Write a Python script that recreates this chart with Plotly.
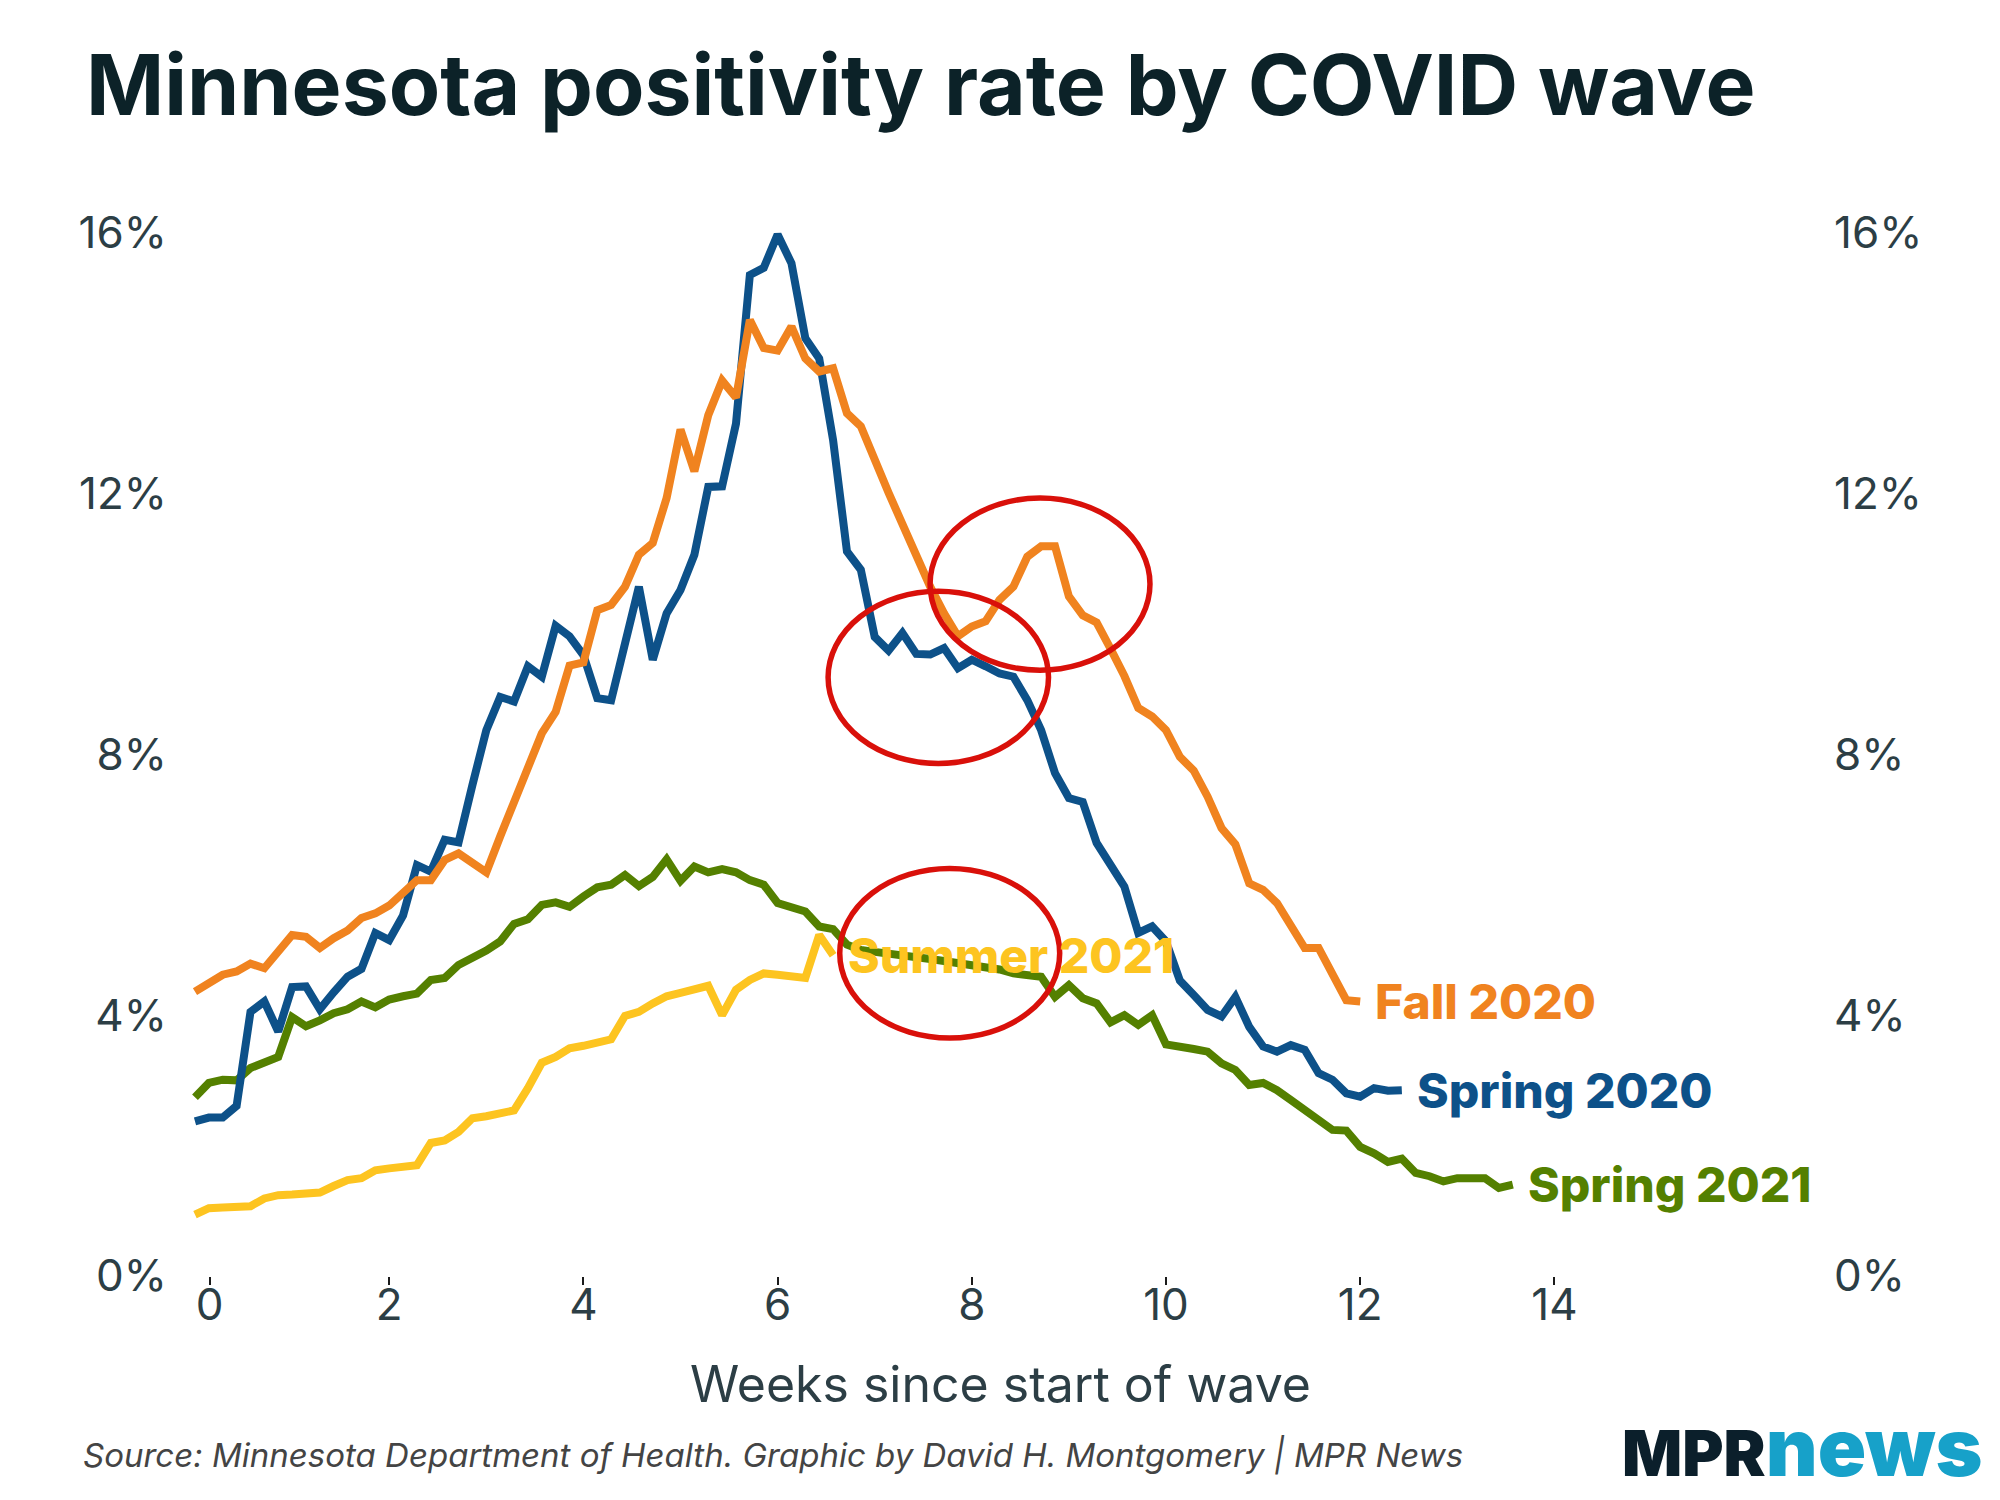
import plotly.graph_objects as go

# ---------------- data (daily values, % positivity) ----------------
spring_2020 = [2.37, 2.43, 2.43, 2.61, 4.05, 4.21, 3.75, 4.43, 4.44, 4.09, 4.35, 4.59, 4.71, 5.26, 5.15,
               5.53, 6.30, 6.20, 6.69, 6.65, 7.53, 8.37, 8.88, 8.81, 9.35, 9.19, 9.97, 9.81, 9.52, 8.86,
               8.83, 9.70, 10.57, 9.45, 10.16, 10.52, 11.06, 12.10, 12.11, 13.07, 15.35, 15.46, 15.97,
               15.53, 14.38, 14.07, 12.82, 11.11, 10.83, 9.80, 9.59, 9.86, 9.54, 9.53, 9.63, 9.32, 9.45,
               9.35, 9.24, 9.19, 8.83, 8.37, 7.71, 7.33, 7.27, 6.64, 6.28, 5.97, 5.26, 5.36, 5.13, 4.53,
               4.31, 4.08, 3.98, 4.28, 3.82, 3.52, 3.44, 3.54, 3.47, 3.11, 3.01, 2.80, 2.75, 2.88, 2.84, 2.85]

fall_2020 = [4.36, 4.49, 4.62, 4.67, 4.79, 4.72, 4.96, 5.23, 5.20, 5.03, 5.18, 5.30, 5.49, 5.56, 5.68,
             5.89, 6.07, 6.07, 6.38, 6.48, 6.33, 6.19, 6.74, 7.25, 7.73, 8.32, 8.65, 9.36, 9.41, 10.21,
             10.29, 10.57, 11.06, 11.24, 11.93, 12.98, 12.34, 13.20, 13.73, 13.47, 14.66, 14.23, 14.19,
             14.56, 14.07, 13.87, 13.92, 13.23, 13.03, 12.50, 12.01, 11.53, 11.04, 10.57, 10.16, 9.81,
             9.96, 10.04, 10.37, 10.57, 11.03, 11.19, 11.19, 10.42, 10.13, 10.02, 9.62, 9.20, 8.71, 8.58,
             8.37, 7.96, 7.75, 7.35, 6.87, 6.62, 6.02, 5.92, 5.72, 5.40, 5.03, 5.03, 4.64, 4.23, 4.21]

spring_2021 = [2.74, 2.96, 3.01, 3.00, 3.19, 3.29, 3.36, 3.97, 3.83, 3.92, 4.03, 4.09, 4.21, 4.12, 4.24,
               4.29, 4.33, 4.54, 4.57, 4.77, 4.87, 4.99, 5.13, 5.40, 5.47, 5.69, 5.73, 5.66, 5.82, 5.96,
               6.00, 6.15, 5.98, 6.12, 6.39, 6.06, 6.28, 6.19, 6.24, 6.19, 6.07, 6.00, 5.72, 5.65, 5.59,
               5.36, 5.32, 5.08, 5.00, 4.97, 4.95, 4.92, 4.90, 4.86, 4.83, 4.80, 4.77, 4.73, 4.70, 4.64,
               4.61, 4.59, 4.28, 4.46, 4.26, 4.18, 3.89, 4.00, 3.85, 4.00, 3.55, 3.53, 3.48, 3.44, 3.26,
               3.16, 2.93, 2.96, 2.85, 2.70, 2.55, 2.42, 2.24, 2.23, 1.98, 1.88, 1.75, 1.80, 1.58, 1.53,
               1.45, 1.50, 1.50, 1.50, 1.35, 1.40]

summer_2021 = [0.94, 1.04, 1.05, 1.06, 1.07, 1.19, 1.24, 1.25, 1.26, 1.28, 1.38, 1.47, 1.50, 1.62, 1.65,
               1.68, 1.70, 2.04, 2.08, 2.21, 2.42, 2.45, 2.50, 2.54, 2.88, 3.27, 3.36, 3.49, 3.53, 3.58,
               3.63, 3.99, 4.05, 4.18, 4.29, 4.34, 4.39, 4.45, 4.00, 4.39, 4.54, 4.64, 4.62, 4.60, 4.57,
               5.23, 4.92]

series_names = ["Spring 2021", "Spring 2020", "Fall 2020", "Summer 2021"]
series_values = [spring_2021, spring_2020, fall_2020, summer_2021]
series_colors = ["#548000", "#0d5189", "#f0831f", "#fdc420"]

x_ticks = [0, 2, 4, 6, 8, 10, 12, 14]
y_ticks = [0, 4, 8, 12, 16]
y_tick_labels = ["0%", "4%", "8%", "12%", "16%"]

# highlighted regions (weeks, %)
circles = [
    dict(x0=7.57, x1=9.835, y0=9.29, y1=11.93),
    dict(x0=6.52, x1=8.79, y0=7.86, y1=10.50),
    dict(x0=6.64, x1=8.905, y0=3.65, y1=6.25),
]

title_text = "Minnesota positivity rate by COVID wave"
x_title = "Weeks since start of wave"
source_text = "Source: Minnesota Department of Health. Graphic by David H. Montgomery | MPR News"

# ---------------- layout geometry (screen pixels) ----------------
W, H = 2000, 1500
OFF = 8                      # page body margin in the browser
PLOT_L, PLOT_R = 176, 1797   # screen x of plot area edges
PLOT_T, PLOT_B = 200, 1276   # screen y of plot area edges
X0_PX = 195.0                # screen x of week 0
PX_PER_WEEK = 97.1

ML = PLOT_L - OFF
MR = W + OFF - PLOT_R
MT = PLOT_T - OFF
MB = H + OFF - PLOT_B
plot_w = PLOT_R - PLOT_L
plot_h = PLOT_B - PLOT_T
x_range = [(PLOT_L - X0_PX) / PX_PER_WEEK, (PLOT_R - X0_PX) / PX_PER_WEEK]
y_range = [0, 16.5]


def px_x(px):
    return (px - PLOT_L) / plot_w


def px_y(py):
    return (PLOT_B - py) / plot_h


TEXT = "#0c2228"
TICK = "#2c3e45"
FONT = "Inter"

fig = go.Figure()
for name, vals, col in zip(series_names, series_values, series_colors):
    weeks = [d / 7 for d in range(len(vals))]
    fig.add_trace(go.Scatter(x=weeks, y=vals, mode="lines", name=name,
                             line=dict(color=col, width=8), hoverinfo="skip"))
# invisible trace for right axis
fig.add_trace(go.Scatter(x=[0], y=[0], yaxis="y2", mode="markers",
                         marker=dict(opacity=0), showlegend=False, hoverinfo="skip"))

annotations = []
for name, vals, col in zip(series_names, series_values, series_colors):
    annotations.append(dict(x=(len(vals) - 1) / 7, y=vals[-1], xref="x", yref="y",
                            text=name, showarrow=False, xanchor="left", yanchor="middle",
                            xshift=13, yshift=0,
                            font=dict(family=FONT, size=48, color=col, weight=800)))

annotations.append(dict(x=px_x(84), y=px_y(85), xref="paper", yref="paper", text=title_text,
                        showarrow=False, xanchor="left", yanchor="middle",
                        font=dict(family=FONT, size=84, color=TEXT, weight=700)))
annotations.append(dict(x=px_x(1000), y=px_y(1384), xref="paper", yref="paper", text=x_title,
                        showarrow=False, xanchor="center", yanchor="middle",
                        font=dict(family=FONT, size=50, color=TICK)))
annotations.append(dict(x=px_x(81), y=px_y(1455), xref="paper", yref="paper",
                        text="<i>" + source_text + "</i>",
                        showarrow=False, xanchor="left", yanchor="middle",
                        font=dict(family=FONT, size=33, color="#444444")))
annotations.append(dict(x=px_x(1620), y=px_y(1446), xref="paper", yref="paper",
                        text="<span style='font-size:63px;color:#0b1f2b'>MPR</span>"
                             "<span style='font-size:80px;color:#17a1c9'>news</span>",
                        showarrow=False, xanchor="left", yanchor="middle",
                        font=dict(family=FONT, size=63, color="#0b1f2b", weight=900)))

shapes = [dict(type="circle", xref="x", yref="y", layer="above",
               line=dict(color="#d9100a", width=5.5), **c) for c in circles]

tick_pos = [t if t > 0 else 0.15 for t in x_ticks]

fig.update_layout(
    width=W, height=H, autosize=False,
    margin=dict(l=ML, r=MR, t=MT, b=MB, pad=0),
    plot_bgcolor="white", paper_bgcolor="white",
    showlegend=False,
    font=dict(family=FONT, color=TICK),
    xaxis=dict(range=x_range, tickvals=tick_pos, ticktext=[str(t) for t in x_ticks],
               showgrid=False, zeroline=False, showline=False,
               ticks="outside", ticklen=8, tickwidth=2, tickcolor="#1b1b1b",
               ticklabelstandoff=-18,
               tickfont=dict(family=FONT, size=44, color=TICK)),
    yaxis=dict(range=y_range, tickvals=y_ticks, ticktext=y_tick_labels,
               showgrid=False, zeroline=False, showline=False, ticks="",
               ticklabelstandoff=8,
               tickfont=dict(family=FONT, size=44, color=TICK)),
    yaxis2=dict(range=y_range, overlaying="y", side="right", tickvals=y_ticks,
                ticktext=y_tick_labels, showgrid=False, zeroline=False, showline=False,
                ticks="", ticklabelstandoff=36,
                tickfont=dict(family=FONT, size=44, color=TICK)),
    annotations=annotations,
    shapes=shapes,
)

fig.write_html("out.html")
